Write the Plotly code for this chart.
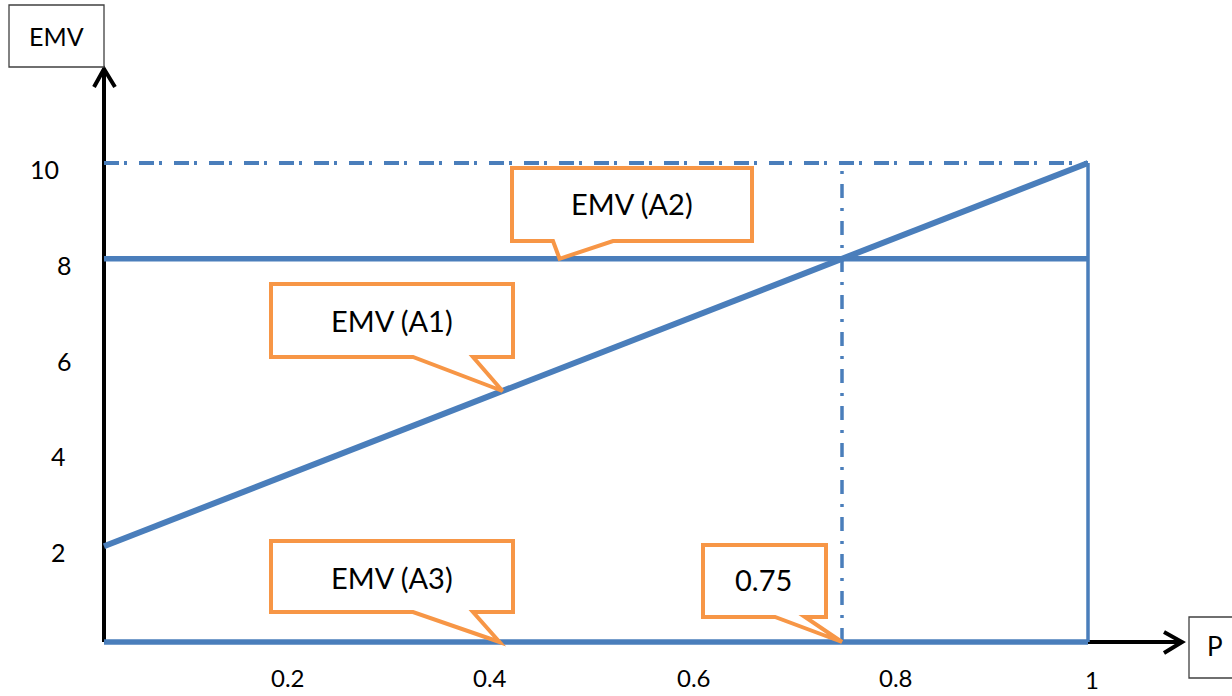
import plotly.graph_objects as go

# ---- data ----
p = [0, 1]
emv_a1 = [2, 10]
emv_a2 = [8, 8]
emv_a3 = [0, 0]
breakeven_p = 0.75
max_emv = 10
y_ticks = [2, 4, 6, 8, 10]
y_tick_labels = ["2", "4", "6", "8", "10"]
x_ticks = [0.2, 0.4, 0.6, 0.8, 1]
x_tick_labels = ["0.2", "0.4", "0.6", "0.8", "1"]

W, H = 1232, 696
X0, X1 = 104, 1088      # pixel of p=0 and p=1
Y0, Y10 = 642, 163      # pixel of EMV=0 and EMV=10
sx = (X1 - X0) / 1.0
sy = (Y0 - Y10) / 10.0


def dx(px):
    return (px - X0) / sx


def dy(py):
    return (Y0 - py) / sy


BLUE = "#4A7EBB"
ORANGE = "#F79646"
FONT = "Lato, Calibri, Carlito, sans-serif"

fig = go.Figure()

# dash-dot guides
fig.add_trace(go.Scatter(x=p, y=[max_emv, max_emv], mode="lines",
                         line=dict(color=BLUE, width=4, dash="15px,5px,3px,12px"),
                         hoverinfo="skip"))
fig.add_trace(go.Scatter(x=[breakeven_p, breakeven_p], y=[0, max_emv], mode="lines",
                         line=dict(color=BLUE, width=3.5, dash="14px,10px,3px,10px"),
                         hoverinfo="skip"))
# right edge at p=1
fig.add_trace(go.Scatter(x=[1, 1], y=[0, max_emv], mode="lines",
                         line=dict(color=BLUE, width=3.5), hoverinfo="skip"))
# EMV lines
fig.add_trace(go.Scatter(x=p, y=emv_a3, mode="lines",
                         line=dict(color=BLUE, width=5.5), hoverinfo="skip"))
fig.add_trace(go.Scatter(x=p, y=emv_a2, mode="lines",
                         line=dict(color=BLUE, width=5.5), hoverinfo="skip"))
fig.add_trace(go.Scatter(x=p, y=emv_a1, mode="lines",
                         line=dict(color=BLUE, width=6), hoverinfo="skip"))

shapes = []
# black axes with arrowheads
shapes.append(dict(type="line", xref="x", yref="y", x0=dx(104), y0=dy(642), x1=dx(104), y1=dy(69),
                   line=dict(color="black", width=4), layer="below"))
shapes.append(dict(type="path", xref="x", yref="y",
                   path=f"M {dx(94)} {dy(87)} L {dx(104)} {dy(69)} L {dx(115)} {dy(87)}",
                   line=dict(color="black", width=4)))
shapes.append(dict(type="line", xref="x", yref="y", x0=dx(104), y0=dy(642), x1=dx(1182), y1=dy(642),
                   line=dict(color="black", width=4), layer="below"))
shapes.append(dict(type="path", xref="x", yref="y",
                   path=f"M {dx(1164)} {dy(632)} L {dx(1182)} {dy(642)} L {dx(1164)} {dy(653)}",
                   line=dict(color="black", width=4)))

# axis title boxes
shapes.append(dict(type="rect", xref="x", yref="y", x0=dx(9), y0=dy(5), x1=dx(104), y1=dy(67),
                   line=dict(color="#404040", width=1.3), fillcolor="white"))
shapes.append(dict(type="rect", xref="x", yref="y", x0=dx(1189), y0=dy(617), x1=dx(1240), y1=dy(678),
                   line=dict(color="#404040", width=1.3), fillcolor="white"))


def callout(l, t, r, b, b1, b2, tipx, tipy):
    path = (f"M {dx(l)} {dy(t)} L {dx(r)} {dy(t)} L {dx(r)} {dy(b)} L {dx(b2)} {dy(b)} "
            f"L {tipx} {tipy} L {dx(b1)} {dy(b)} L {dx(l)} {dy(b)} Z")
    return dict(type="path", xref="x", yref="y", path=path,
                line=dict(color=ORANGE, width=4), fillcolor="white", layer="above")


a1_tip_p = 0.405
a1_tip_v = emv_a1[0] + (emv_a1[1] - emv_a1[0]) * a1_tip_p
shapes.append(callout(512, 168, 752, 241, 553, 613, 0.463, emv_a2[0]))
shapes.append(callout(271, 284, 513, 357, 413, 473, a1_tip_p, a1_tip_v))
shapes.append(callout(271, 541, 513, 612, 413, 473, 0.402, emv_a3[0]))
shapes.append(callout(703, 545, 826, 617, 775, 805, breakeven_p, 0))

annotations = []


def txt(text, px, py, size=23):
    annotations.append(dict(text=text, x=dx(px), y=dy(py), xref="x", yref="y",
                            showarrow=False, font=dict(family=FONT, size=size, color="black"),
                            xanchor="center", yanchor="middle"))


txt("EMV", 56, 36, 25)
txt("P", 1215, 646, 26)
txt("EMV (A2)", 632, 203, 29)
txt("EMV (A1)", 392, 320, 29)
txt("EMV (A3)", 392, 577, 29)
txt("0.75", 763, 579, 29)

y_label_px = [58, 58, 64, 64, 44]
for v, lab, px in zip(y_ticks, y_tick_labels, y_label_px):
    annotations.append(dict(text=lab, x=dx(px), y=v, xref="x", yref="y", yshift=-6,
                            showarrow=False, font=dict(family=FONT, size=25, color="black"),
                            xanchor="center", yanchor="middle"))

x_label_shift = [-13, -8, 0, 5, 4]
for v, lab, sh in zip(x_ticks, x_tick_labels, x_label_shift):
    annotations.append(dict(text=lab, x=v, y=dy(677 if lab != "1" else 679), xref="x", yref="y",
                            xshift=sh, showarrow=False,
                            font=dict(family=FONT, size=24, color="black"),
                            xanchor="center", yanchor="middle"))

fig.update_layout(
    width=W, height=H,
    margin=dict(l=0, r=0, t=0, b=0),
    paper_bgcolor="white", plot_bgcolor="white",
    showlegend=False,
    shapes=shapes, annotations=annotations,
    xaxis=dict(range=[dx(0), dx(W)], visible=False, fixedrange=True),
    yaxis=dict(range=[dy(H), dy(0)], visible=False, fixedrange=True),
)

fig.write_html("out.html", config={"displayModeBar": False},
               post_script="document.body.style.margin='0';document.body.style.overflow='hidden';")
